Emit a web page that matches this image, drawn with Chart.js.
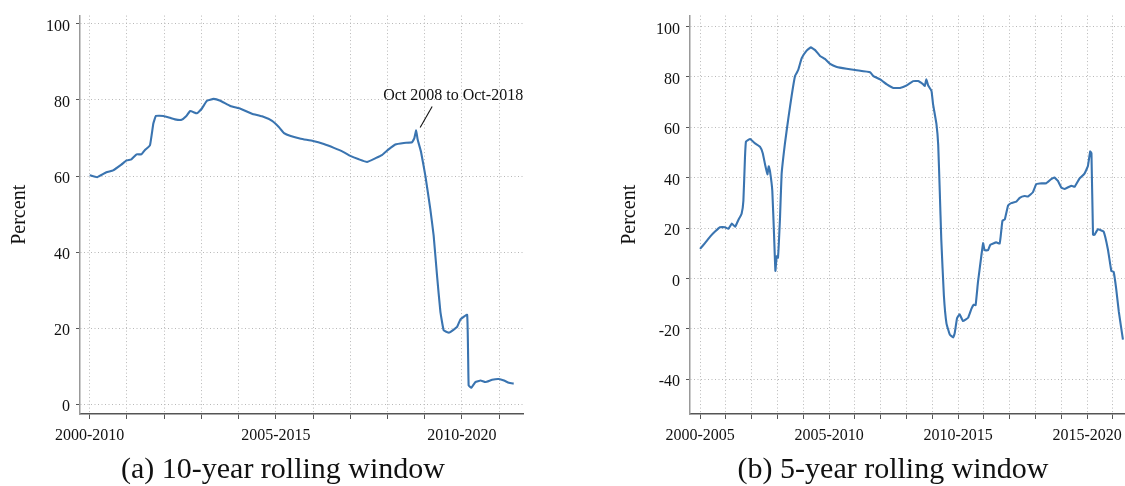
<!DOCTYPE html>
<html>
<head>
<meta charset="utf-8">
<script src="https://cdn.jsdelivr.net/npm/chart.js@4"></script>
<style>
    body { margin: 0; background: #fff; width: 1125px; height: 486px; overflow: hidden; position: relative; }
    canvas { position: absolute; top: 0; }
    #tenCanvas { left: 0; }
    #fiveCanvas { left: 610px; }
    .caption { position: absolute; top: 451px; font-family: 'Liberation Serif', serif; font-size: 30px; color: #111; white-space: nowrap; transform: translateX(-50%); }
</style>
</head>
<body>
<canvas id="tenCanvas" width="535" height="452"></canvas>
<canvas id="fiveCanvas" width="515" height="452"></canvas>
<div class="caption" style="left:283px">(a) 10-year rolling window</div>
<div class="caption" style="left:893px">(b) 5-year rolling window</div>
<script>
// 10-year window: years since the first window, share in percent
var tenYearX = [0, 0.2, 0.45, 0.63, 0.85, 0.99, 1.12, 1.26, 1.39, 1.48,
    1.62, 1.71, 1.78, 1.98, 2.16, 2.29, 2.47, 2.59, 2.70, 2.88,
    3.01, 3.15, 3.33, 3.51, 3.78, 4.05, 4.36, 4.63, 4.90, 5.08,
    5.22, 5.40, 5.67, 6.0, 6.29, 6.56, 6.82, 7.0, 7.23, 7.45,
    7.68, 7.85, 8.03, 8.21, 8.44, 8.66, 8.72, 8.77, 8.81, 8.90,
    9.02, 9.15, 9.24, 9.33, 9.42, 9.51, 9.65, 9.78, 9.87, 9.96,
    10.14, 10.18, 10.25, 10.36, 10.5, 10.63, 10.81, 10.99, 11.13, 11.26,
    11.39];
var tenYearPct = [60.2, 59.7, 61.0, 61.5, 63.0, 64.1, 64.4, 65.7, 65.7, 66.8,
    68.1, 73.8, 75.8, 75.8, 75.3, 74.9, 74.8, 75.7, 77.1, 76.5,
    77.7, 79.8, 80.3, 79.8, 78.4, 77.7, 76.4, 75.7, 74.5, 72.9,
    71.3, 70.5, 69.8, 69.2, 68.4, 67.4, 66.3, 65.3, 64.4, 63.7,
    64.7, 65.5, 67.0, 68.3, 68.7, 68.9, 69.9, 72.0, 69.6, 66.4,
    59.9, 51.3, 44.3, 33.9, 24.4, 19.4, 18.8, 19.6, 20.3, 22.3,
    23.5, 4.9, 4.3, 5.8, 6.2, 5.8, 6.4, 6.6, 6.2, 5.6,
    5.4];
var tenYearLabelAt = [0, 5, 10];
var tenYearLabels = ['2000-2010', '2005-2015', '2010-2020'];
var tenYearNoteX = 8.77;
var tenYearNote = 'Oct 2008 to Oct-2018';

// 5-year window
var fiveYearX = [0, 0.19, 0.39, 0.58, 0.77, 0.97, 1.10, 1.23, 1.36, 1.48,
    1.61, 1.68, 1.74, 1.78, 1.94, 2.13, 2.32, 2.43, 2.52, 2.61,
    2.66, 2.71, 2.80, 2.87, 2.92, 2.97, 3.02, 3.10, 3.16, 3.29,
    3.42, 3.55, 3.68, 3.75, 3.81, 3.94, 4.13, 4.29, 4.46, 4.65,
    4.84, 5.04, 5.30, 5.68, 6.07, 6.59, 6.72, 6.98, 7.24, 7.49,
    7.75, 8.01, 8.26, 8.45, 8.65, 8.71, 8.77, 8.84, 8.97, 9.03,
    9.16, 9.23, 9.29, 9.35, 9.45, 9.55, 9.68, 9.81, 9.87, 9.96,
    10.06, 10.19, 10.39, 10.52, 10.61, 10.68, 10.77, 10.90, 10.97, 11.03,
    11.16, 11.25, 11.48, 11.61, 11.65, 11.72, 11.81, 11.94, 12.06, 12.26,
    12.39, 12.58, 12.71, 12.90, 13.03, 13.16, 13.42, 13.61, 13.74, 13.87,
    14.0, 14.13, 14.39, 14.52, 14.71, 14.90, 15.03, 15.12, 15.17, 15.23,
    15.29, 15.42, 15.64, 15.81, 15.94, 16.03, 16.13, 16.23, 16.39];
var fiveYearPct = [11.7, 14.0, 16.6, 18.6, 20.3, 20.3, 19.7, 21.8, 20.5, 23.1,
    25.7, 30.9, 47.8, 54.3, 55.3, 53.6, 52.3, 49.7, 45.2, 41.3,
    44.5, 42.6, 34.8, 16.6, 3.0, 8.8, 8.2, 24.4, 41.3, 53.6,
    63.4, 72.5, 80.3, 81.6, 82.9, 87.4, 90.4, 91.7, 90.6, 88.3,
    87.1, 85.1, 83.9, 83.2, 82.6, 81.8, 80.3, 79.0, 77.0, 75.6,
    75.6, 76.6, 78.3, 78.3, 77.0, 76.4, 79.0, 76.6, 74.4, 69.2,
    61.4, 53.0, 34.8, 15.3, -6.8, -17.8, -22.3, -23.4, -21.7, -15.8,
    -14.2, -16.9, -15.6, -12.0, -10.4, -10.6, -1.6, 8.8, 14.0, 11.2,
    11.2, 13.4, 14.3, 13.8, 16.6, 22.9, 23.4, 29.0, 29.9, 30.5,
    32.0, 32.7, 32.5, 34.2, 37.4, 37.7, 37.8, 39.4, 40.0, 38.7,
    36.1, 35.5, 36.8, 36.4, 39.7, 41.6, 44.5, 50.4, 49.7, 17.3,
    17.3, 19.5, 18.6, 11.4, 3.0, 2.6, -4.2, -13.2, -24.3];
var fiveYearLabelAt = [0, 5, 10, 15];
var fiveYearLabels = ['2000-2005', '2005-2010', '2010-2015', '2015-2020'];

var tenYearTicksY = [0, 20, 40, 60, 80, 100];
var fiveYearTicksY = [-40, -20, 0, 20, 40, 60, 80, 100];

Chart.defaults.font.family = "'Liberation Serif', serif";
Chart.defaults.color = '#111';

var lineBlue = '#3a74b0';
var gridGray = '#b8b8b8';

function points(xs, ys) {
    var out = [];
    for (var i = 0; i < xs.length; i++) {
        out.push({ x: xs[i], y: ys[i] });
    }
    return out;
}

function years(last) {
    var arr = [];
    for (var i = 0; i <= last; i++) arr.push(i);
    return arr;
}

// pointer from the label down to the marked window
var notePlugin = {
    id: 'note',
    afterDatasetsDraw: function (chart, args, opts) {
        if (!opts.text) return;
        var i = chart.data.datasets[0].data.findIndex(function (p) { return p.x == opts.x; });
        var p = chart.data.datasets[0].data[i];
        var px = chart.scales.x.getPixelForValue(p.x);
        var py = chart.scales.y.getPixelForValue(p.y);
        var ctx = chart.ctx;
        ctx.save();
        ctx.strokeStyle = '#111';
        ctx.lineWidth = 1.1;
        ctx.beginPath();
        ctx.moveTo(px + 4, py - 3);
        ctx.lineTo(px + 16, py - 24);
        ctx.stroke();
        ctx.font = "16px 'Liberation Serif', serif";
        ctx.fillStyle = '#111';
        ctx.textAlign = 'center';
        ctx.textBaseline = 'middle';
        ctx.fillText(opts.text, px + 37, py - 35);
        ctx.restore();
    }
};

function makeChart(id, xs, ys, cfg) {
    return new Chart(document.getElementById(id), {
        type: 'line',
        data: {
            datasets: [{
                data: points(xs, ys),
                borderColor: lineBlue,
                borderWidth: 2.1,
                pointRadius: 0,
                tension: 0.1
            }]
        },
        options: {
            responsive: false,
            animation: false,
            layout: { padding: { top: 9, right: cfg.padRight, left: 0, bottom: 0 } },
            plugins: {
                legend: { display: false },
                tooltip: { enabled: false },
                note: { text: cfg.note, x: cfg.noteX }
            },
            scales: {
                x: {
                    type: 'linear',
                    min: cfg.xMin,
                    max: cfg.xMax,
                    afterBuildTicks: function (s) {
                        s.ticks = years(cfg.lastYear).map(function (v) { return { value: v }; });
                    },
                    afterFit: function (s) { s.height = 38; },
                    ticks: {
                        font: { size: 16 },
                        padding: 7,
                        maxRotation: 0,
                        autoSkip: false,
                        callback: function (v) {
                            var k = cfg.labelAt.indexOf(v);
                            return k >= 0 ? cfg.labels[k] : '';
                        }
                    },
                    grid: {
                        color: gridGray,
                        tickColor: '#555',
                        tickBorderDash: [],
                        tickLength: 5,
                        tickWidth: 1
                    },
                    border: { display: true, color: '#555', width: 1.5, dash: [1, 2.5] }
                },
                y: {
                    min: cfg.yMin,
                    max: cfg.yMax,
                    afterBuildTicks: function (s) {
                        s.ticks = cfg.ticksY.map(function (v) { return { value: v }; });
                    },
                    afterFit: function (s) { s.width = 80; },
                    ticks: { font: { size: 16 }, padding: 6, labelOffset: 3 },
                    title: {
                        display: true,
                        text: 'Percent',
                        font: { size: 20 },
                        padding: { top: 8 }
                    },
                    grid: {
                        color: gridGray,
                        tickColor: '#555',
                        tickBorderDash: [],
                        tickLength: 4,
                        tickWidth: 1
                    },
                    border: { display: true, color: '#999', width: 1.5, dash: [1, 2.5] }
                }
            }
        },
        plugins: [notePlugin]
    });
}

makeChart('tenCanvas', tenYearX, tenYearPct, {
    xMin: -0.26, xMax: 11.64, lastYear: 11,
    yMin: -2.6, yMax: 102.2, ticksY: tenYearTicksY,
    labelAt: tenYearLabelAt, labels: tenYearLabels,
    padRight: 12, note: tenYearNote, noteX: tenYearNoteX
});

makeChart('fiveCanvas', fiveYearX, fiveYearPct, {
    xMin: -0.39, xMax: 16.47, lastYear: 16,
    yMin: -53.8, yMax: 104.3, ticksY: fiveYearTicksY,
    labelAt: fiveYearLabelAt, labels: fiveYearLabels,
    padRight: 0, note: null, noteX: null
});
</script>
</body>
</html>
